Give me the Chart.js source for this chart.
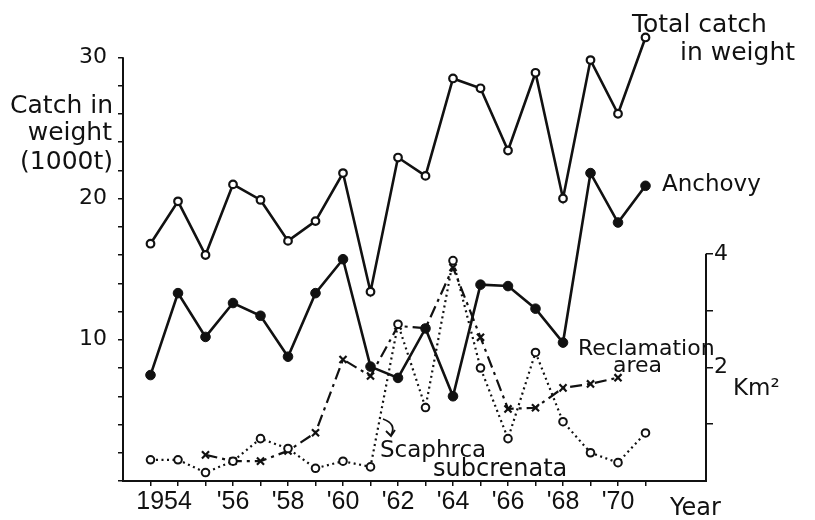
<!DOCTYPE html>
<html lang="en">
    <head>
        <meta charset="utf-8" />
        <script src="https://cdn.jsdelivr.net/npm/chart.js@4.4.1/dist/chart.umd.min.js"></script>
        <title>Catch in weight</title>
        <style>
            body { margin: 0; background: #fff; }
        </style>
    </head>
    <body>
        <canvas id="grafico" width="815" height="520"></canvas>
        <script>
            // years on the x axis (one point per year)
            const years = [1953, 1954, 1955, 1956, 1957, 1958, 1959, 1960, 1961, 1962,
                           1963, 1964, 1965, 1966, 1967, 1968, 1969, 1970, 1971];
            // catch in weight, 1000 t (left axis)
            const totalCatch = [16.8, 19.8, 16.0, 21.0, 19.9, 17.0, 18.4, 21.8, 13.4, 22.9,
                                21.6, 28.5, 27.8, 23.4, 28.9, 20.0, 29.8, 26.0, 31.4];
            const anchovy = [7.5, 13.3, 10.2, 12.6, 11.7, 8.8, 13.3, 15.7, 8.1, 7.3,
                             10.8, 6.0, 13.9, 13.8, 12.2, 9.8, 21.8, 18.3, 20.9];
            const scaphrca = [1.5, 1.5, 0.6, 1.4, 3.0, 2.3, 0.9, 1.4, 1.0, 11.1,
                              5.2, 15.6, 8.0, 3.0, 9.1, 4.2, 2.0, 1.3, 3.4];
            // reclamation area, Km2 (right axis), 1955-1970 only
            const reclamation = [null, null, 0.46, 0.35, 0.35, 0.53, 0.85, 2.14, 1.85, 2.73,
                                 2.69, 3.76, 2.53, 1.27, 1.29, 1.64, 1.71, 1.82, null];
            // tick labels
            const xLabelYears = [1954, 1956, 1958, 1960, 1962, 1964, 1966, 1968, 1970];
            const xLabelTexts = ["1954    ", "'56", "'58", "'60", "'62", "'64", "'66", "'68", "'70"];
            const leftTicks = [0, 2, 4, 6, 8, 10, 12, 14, 16, 18, 20, 22, 24, 26, 28, 30];
            const leftLabels = [10, 20, 30];
            const rightTicks = [1, 2, 3, 4];
            const rightLabels = [2, 4];

            const ink = "#111";
            const fuente = "'DejaVu Sans', sans-serif";

            function puntos(valores) {
                return years.map((y, i) => ({ x: y, y: valores[i] }));
            }

            // free texts written on the figure
            const textos = [
                { t: "Catch in", x: 113, y: 113, size: 25, align: "right" },
                { t: "weight", x: 112, y: 140, size: 25, align: "right" },
                { t: "(1000t)", x: 113, y: 169, size: 25, align: "right" },
                { t: "Total catch", x: 632, y: 32, size: 25, align: "left" },
                { t: "in weight", x: 680, y: 60, size: 25, align: "left" },
                { t: "Anchovy", x: 662, y: 191, size: 23, align: "left" },
                { t: "Reclamation", x: 578, y: 355, size: 22, align: "left" },
                { t: "area", x: 613, y: 372, size: 22, align: "left" },
                { t: "Km²", x: 733, y: 395, size: 23, align: "left" },
                { t: "Scaphrca", x: 380, y: 457, size: 23, align: "left" },
                { t: "subcrenata", x: 433, y: 476, size: 24, align: "left" },
                { t: "Year", x: 670, y: 515, size: 24, align: "left" }
            ];

            const dibujos = {
                id: "dibujos",
                afterDraw(chart) {
                    const ctx = chart.ctx;
                    const yl = chart.scales.y;
                    const y2 = chart.scales.y2;
                    ctx.save();
                    ctx.strokeStyle = ink;
                    ctx.lineWidth = 2;
                    // left axis line from 0 to 30
                    ctx.beginPath();
                    ctx.moveTo(yl.right, yl.getPixelForValue(0) + 1);
                    ctx.lineTo(yl.right, yl.getPixelForValue(30));
                    ctx.stroke();
                    // right axis line only from 0 to 4 Km2
                    ctx.beginPath();
                    ctx.moveTo(y2.left, y2.getPixelForValue(0) + 1);
                    ctx.lineTo(y2.left, y2.getPixelForValue(4));
                    ctx.stroke();
                    // small hook arrow pointing at the Scaphrca curve
                    ctx.lineWidth = 1.8;
                    ctx.beginPath();
                    ctx.moveTo(383, 419);
                    ctx.quadraticCurveTo(397, 424, 391, 435);
                    ctx.stroke();
                    ctx.beginPath();
                    ctx.moveTo(386, 431);
                    ctx.lineTo(391, 436);
                    ctx.lineTo(395, 430);
                    ctx.stroke();
                    ctx.fillStyle = ink;
                    textos.forEach(o => {
                        ctx.font = o.size + "px " + fuente;
                        ctx.textAlign = o.align;
                        ctx.textBaseline = "alphabetic";
                        ctx.fillText(o.t, o.x, o.y);
                    });
                    ctx.restore();
                }
            };

            new Chart(document.getElementById("grafico").getContext("2d"), {
                type: "line",
                data: {
                    datasets: [
                        {
                            label: "Total catch in weight",
                            data: puntos(totalCatch),
                            yAxisID: "y",
                            borderColor: ink, borderWidth: 2.6,
                            pointStyle: "circle", pointRadius: 3.8, pointBorderWidth: 2.2,
                            pointBackgroundColor: "#fff", pointBorderColor: ink,
                            tension: 0, clip: false
                        },
                        {
                            label: "Anchovy",
                            data: puntos(anchovy),
                            yAxisID: "y",
                            borderColor: ink, borderWidth: 2.6,
                            pointStyle: "circle", pointRadius: 4.8, pointBorderWidth: 1,
                            pointBackgroundColor: ink, pointBorderColor: ink,
                            tension: 0, clip: false
                        },
                        {
                            label: "Scaphrca subcrenata",
                            data: puntos(scaphrca),
                            yAxisID: "y",
                            borderColor: ink, borderWidth: 2.2, borderDash: [2, 3.5],
                            pointStyle: "circle", pointRadius: 3.8, pointBorderWidth: 2,
                            pointBackgroundColor: "#fff", pointBorderColor: ink,
                            tension: 0, clip: false
                        },
                        {
                            label: "Reclamation area",
                            data: puntos(reclamation),
                            yAxisID: "y2",
                            borderColor: ink, borderWidth: 2.2, borderDash: [12, 5, 3, 5],
                            pointStyle: "crossRot", pointRadius: 5, pointBorderWidth: 2.2,
                            pointBorderColor: ink,
                            spanGaps: false, tension: 0, clip: false
                        }
                    ]
                },
                options: {
                    responsive: false,
                    animation: false,
                    layout: { padding: { top: 29, left: 0, right: 0, bottom: 0 } },
                    plugins: {
                        legend: { display: false },
                        tooltip: { enabled: false }
                    },
                    scales: {
                        x: {
                            type: "linear",
                            min: 1952,
                            max: 1973.2,
                            afterBuildTicks: s => { s.ticks = years.map(v => ({ value: v })); },
                            afterFit: s => { s.height = 39; },
                            border: { display: true, color: ink, width: 2 },
                            grid: { drawOnChartArea: false, drawTicks: true, tickLength: 5, color: ink, lineWidth: 1.5 },
                            ticks: {
                                autoSkip: false,
                                maxRotation: 0,
                                padding: 1,
                                color: ink,
                                font: { family: "'Liberation Sans', Arial, sans-serif", size: 25 },
                                callback: v => {
                                    const i = xLabelYears.indexOf(v);
                                    return i >= 0 ? xLabelTexts[i] : "";
                                }
                            }
                        },
                        y: {
                            position: "left",
                            min: 0,
                            max: 32,
                            afterBuildTicks: s => { s.ticks = leftTicks.map(v => ({ value: v })); },
                            afterFit: s => { s.width = 123; },
                            border: { display: false },
                            grid: { drawOnChartArea: false, drawTicks: true, tickLength: 5, color: ink, lineWidth: 1.5 },
                            ticks: {
                                autoSkip: false,
                                padding: 11,
                                color: ink,
                                font: { family: fuente, size: 22 },
                                callback: v => leftLabels.includes(v) ? String(v) : ""
                            }
                        },
                        y2: {
                            position: "right",
                            min: 0,
                            max: 7.96,
                            afterBuildTicks: s => { s.ticks = rightTicks.map(v => ({ value: v })); },
                            afterFit: s => { s.width = 109; },
                            border: { display: false },
                            grid: { drawOnChartArea: false, drawTicks: true, tickLength: 7, color: ink, lineWidth: 1.5 },
                            ticks: {
                                autoSkip: false,
                                padding: 1,
                                color: ink,
                                font: { family: fuente, size: 22 },
                                callback: v => rightLabels.includes(v) ? String(v) : ""
                            }
                        }
                    }
                },
                plugins: [dibujos]
            });
        </script>
    </body>
</html>
